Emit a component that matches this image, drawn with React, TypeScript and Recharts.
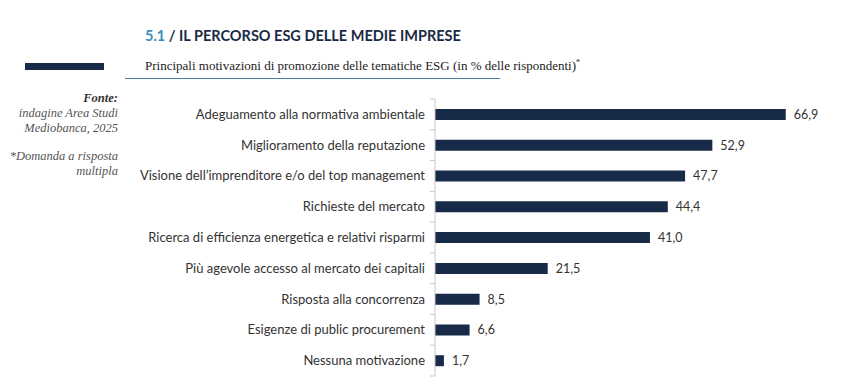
import { BarChart, Bar, XAxis, YAxis, LabelList } from 'recharts';

const categories = [
    'Adeguamento alla normativa ambientale',
    'Miglioramento della reputazione',
    "Visione dell\u2019imprenditore e/o del top management",
    'Richieste del mercato',
    'Ricerca di efficienza energetica e relativi risparmi',
    'Più agevole accesso al mercato dei capitali',
    'Risposta alla concorrenza',
    'Esigenze di public procurement',
    'Nessuna motivazione',
];
const values = [66.9, 52.9, 47.7, 44.4, 41.0, 21.5, 8.5, 6.6, 1.7];

const chartData = categories.map((name, i) => ({ name, value: values[i] }));

const NAVY = '#172a48';
const TOP = 99;
const BOTTOM = 13;
const HEIGHT = 389;
const HALF = (HEIGHT - TOP - BOTTOM) / categories.length / 2;

const CategoryTick = (props: any) => {
    const { x, y, payload, index } = props;
    return (
        <g>
            <line x1={x - 5} x2={x} y1={y - HALF} y2={y - HALF} stroke="#c8c8c8" />
            {index === categories.length - 1 && (
                <line x1={x - 5} x2={x} y1={y + HALF} y2={y + HALF} stroke="#c8c8c8" />
            )}
            <text x={x - 10} y={y} dy={4.5} textAnchor="end" fill="#333" fontSize={13} fontFamily="Lato">
                {payload.value}
            </text>
        </g>
    );
};

const sideText: React.CSSProperties = {
    position: 'absolute',
    right: 841 - 118,
    fontFamily: 'Liberation Serif',
    fontStyle: 'italic',
    fontSize: 12.5,
    color: '#555',
    textAlign: 'right',
    whiteSpace: 'nowrap',
    lineHeight: '15px',
};

export default function App() {
    return (
        <div style={{ position: 'absolute', left: 0, top: 0, width: 841, height: 389, background: '#fff', overflow: 'hidden' }}>
            <div style={{ position: 'absolute', left: 145, top: 27, fontFamily: 'Lato', fontWeight: 700, fontSize: 14.5, color: '#1a2a44', whiteSpace: 'nowrap' }}>
                <span style={{ color: '#3a8cbf' }}>5.1</span> / IL PERCORSO ESG DELLE MEDIE IMPRESE
            </div>
            <div style={{ position: 'absolute', left: 25, top: 63, width: 79, height: 7, background: NAVY }} />
            <div style={{ position: 'absolute', left: 145, top: 58, fontFamily: 'Liberation Serif', fontSize: 13, color: '#222', whiteSpace: 'nowrap' }}>
                Principali motivazioni di promozione delle tematiche ESG (in % delle rispondenti)<sup style={{ fontSize: 8 }}>*</sup>
            </div>
            <div style={{ position: 'absolute', left: 125, top: 78, width: 375, height: 1, background: '#4a7fa8' }} />
            <div style={{ ...sideText, top: 91 }}>
                <b style={{ color: '#333' }}>Fonte:</b><br />
                indagine Area Studi<br />
                Mediobanca, 2025
            </div>
            <div style={{ ...sideText, top: 149 }}>
                *Domanda a risposta<br />
                multipla
            </div>
            <div style={{ position: 'absolute', left: 0, top: 0 }}>
                <BarChart
                    width={841}
                    height={HEIGHT}
                    data={chartData}
                    layout="vertical"
                    margin={{ top: TOP, bottom: BOTTOM, left: 0, right: 841 - 435 - 367 }}
                    barCategoryGap={0}
                >
                    <XAxis type="number" domain={[0, 70]} hide />
                    <YAxis
                        type="category"
                        dataKey="name"
                        width={435}
                        axisLine={{ stroke: '#c8c8c8' }}
                        tickLine={false}
                        tickSize={0}
                        tickMargin={0}
                        tick={<CategoryTick />}
                        interval={0}
                    />
                    <Bar dataKey="value" fill={NAVY} barSize={11} isAnimationActive={false}>
                        <LabelList
                            dataKey="value"
                            position="right"
                            offset={8}
                            fill="#333"
                            fontSize={12.5}
                            fontFamily="Lato"
                            formatter={(v: any) => Number(v).toFixed(1).replace('.', ',')}
                        />
                    </Bar>
                </BarChart>
            </div>
        </div>
    );
}
